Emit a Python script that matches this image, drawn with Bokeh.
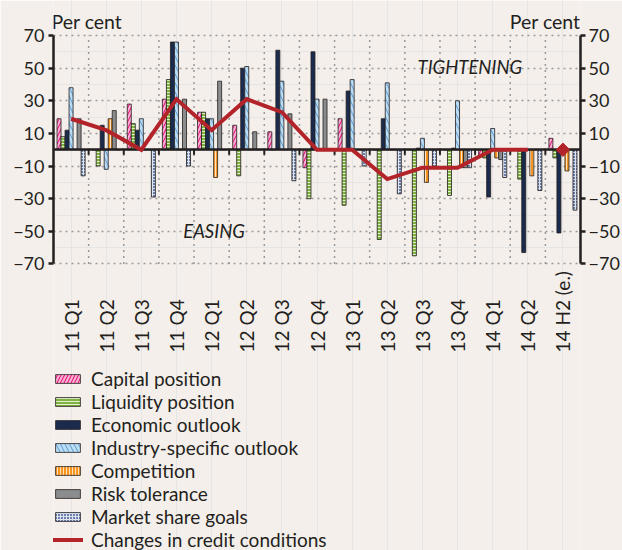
import math
from bokeh.plotting import figure
from bokeh.models import (ColumnDataSource, FactorRange, Range1d, LinearAxis,
                          FixedTicker, Grid, Legend, LegendItem, Label)
from bokeh.transform import dodge
from bokeh.core.properties import value
from bokeh.embed import file_html
from bokeh.resources import INLINE

# ---------------- data ----------------
categories = ["11 Q1", "11 Q2", "11 Q3", "11 Q4", "12 Q1", "12 Q2", "12 Q3", "12 Q4",
              "13 Q1", "13 Q2", "13 Q3", "13 Q4", "14 Q1", "14 Q2", "14 H2 (e.)"]
capital_position = [19, 0, 28, 31, 23, 15, 11, -11, 19, 0, 0, 0, -3, 0, 7]
liquidity_position = [8, -10, 16, 43, 23, -16, 0, -30, -34, -55, -65, -28, -5, -18, -5]
economic_outlook = [12, 15, 12, 66, 19, 50, 61, 60, 36, 19, 1, 1, -29, -63, -51]
industry_outlook = [38, -12, 19, 66, 19, 51, 42, 31, 43, 41, 7, 30, 13, 0, 0]
competition = [0, 19, 0, 0, -17, 0, 0, 0, 0, 0, -20, -11, -5, -16, -13]
risk_tolerance = [19, 24, 0, 31, 42, 11, 22, 31, 0, 0, 0, -11, -6, 0, 0]
market_share_goals = [-16, 0, -29, -10, 0, 0, -19, 0, -10, -27, -10, -11, -17, -25, -37]
credit_conditions = [19, 12, 0, 31, 12, 31, 23, 0, 0, -18, -11, -11, 0, 0]
credit_estimate = 0
y_ticks = [-70, -50, -30, -10, 10, 30, 50, 70]

series_names = ["Capital position", "Liquidity position", "Economic outlook",
                "Industry-specific outlook", "Competition", "Risk tolerance",
                "Market share goals"]
line_name = "Changes in credit conditions"

# ---------------- styles ----------------
BG = "#f5efeb"
DARK = "#231f20"
RED = "#b3242a"
GRID = "#9a9a9a"
styles = [
    dict(fill_color="#f7b3cd", hatch_pattern="/", hatch_color="#e4007c", hatch_scale=7, hatch_weight=1),
    dict(fill_color="#7fb143", hatch_pattern="-", hatch_color="#e3f0cc", hatch_scale=3, hatch_weight=1),
    dict(fill_color="#1b2b4e"),
    dict(fill_color="#bcdcf3", hatch_pattern="\\", hatch_color="#5b9bd2", hatch_scale=9, hatch_weight=1),
    dict(fill_color="#f7941d", hatch_pattern="|", hatch_color="#fde2c2", hatch_scale=3, hatch_weight=1),
    dict(fill_color="#8b8c8e"),
    dict(fill_color="#6a7fab", hatch_pattern="+", hatch_color="#dde4f0", hatch_scale=3, hatch_weight=1),
]

p = figure(width=622, height=550,
           x_range=FactorRange(factors=categories, range_padding=0),
           y_range=Range1d(-245.56, 91.45),
           output_backend="svg", toolbar_location=None,
           x_axis_location=None, y_axis_location=None, title=None,
           min_border_left=53, min_border_right=41, min_border_top=0, min_border_bottom=0,
           background_fill_color=BG, border_fill_color=BG, outline_line_color=None)

ticker = FixedTicker(ticks=y_ticks)
overrides = {t: (f"\u2212{abs(t)}" if t < 0 else str(t)) for t in y_ticks}
for side, standoff in (("left", 4), ("right", 3)):
    ax = LinearAxis(ticker=ticker, bounds=(-70, 70), major_label_overrides=overrides,
                    axis_line_color=DARK, axis_line_width=2.5,
                    major_tick_line_color=DARK, major_tick_line_width=2.5,
                    major_tick_out=5, major_tick_in=0, minor_tick_line_color=None,
                    major_label_text_font="Lato", major_label_text_font_size="18px",
                    major_label_text_color=DARK, major_label_standoff=standoff)
    p.add_layout(ax, side)

p.add_layout(Grid(dimension=1, ticker=ticker, grid_line_color=GRID,
                  grid_line_dash="2 4", grid_line_width=1.5))

src = ColumnDataSource(dict(cat=categories, s0=capital_position, s1=liquidity_position,
                            s2=economic_outlook, s3=industry_outlook, s4=competition,
                            s5=risk_tolerance, s6=market_share_goals))
bsrc = ColumnDataSource(dict(cat=categories[1:]))

# vertical dotted grid at category boundaries
p.segment(x0=dodge("cat", -0.5, range=p.x_range), y0=-70,
          x1=dodge("cat", -0.5, range=p.x_range), y1=70, source=bsrc,
          line_color=GRID, line_dash="2 4", line_width=1.5)

n = len(series_names)
bw = 0.8 / n
renderers = []
for i in range(n):
    off = -0.4 + bw * (i + 0.5)
    r = p.vbar(x=dodge("cat", off, range=p.x_range), top=f"s{i}", bottom=0, width=bw,
               source=src, line_color=DARK, line_width=0.8, **styles[i])
    renderers.append(r)

# zero line and boundary ticks
p.hspan(y=[0], line_color=DARK, line_width=2.5)
p.segment(x0=dodge("cat", -0.5, range=p.x_range), y0=0,
          x1=dodge("cat", -0.5, range=p.x_range), y1=-3, source=bsrc,
          line_color=DARK, line_width=2)

lsrc = ColumnDataSource(dict(cat=categories[:len(credit_conditions)], v=credit_conditions))
rline = p.line("cat", "v", source=lsrc, line_color=RED, line_width=4, line_join="miter")
p.scatter(x=[categories[-1]], y=[credit_estimate], marker="square", angle=math.pi / 4,
          size=9.5, fill_color=RED, line_color=RED)

# category labels
p.text(x="cat", y=-124.2, text="cat", source=src, angle=math.pi / 2,
       text_align="left", text_baseline="middle", text_font=value("Lato"),
       text_font_size="19px", text_color=DARK)

for x, align, txt, y, style, size in ((0, "left", "Per cent", 78.6, "normal", "19.5px"),
                                      (15, "right", "Per cent", 78.6, "normal", "19.5px"),
                                      (4.57, "center", "EASING", -49.5, "italic", "18.5px"),
                                      (11.85, "center", "TIGHTENING", 51, "italic", "18.5px")):
    p.add_layout(Label(x=x, y=y, text=txt, text_align=align, text_baseline="middle",
                       text_font="Lato", text_font_size=size, text_font_style=style,
                       text_color=DARK, x_offset=(-2 if align == "left" else 0)))

items = [LegendItem(label=nm, renderers=[r]) for nm, r in zip(series_names, renderers)]
items.append(LegendItem(label=line_name, renderers=[rline]))
legend = Legend(items=items, location=(-1, -1), glyph_width=31, glyph_height=11,
                label_standoff=8, spacing=0, padding=0, margin=0,
                label_text_font="Lato", label_text_font_size="19px",
                label_text_color=DARK, border_line_color=None, background_fill_alpha=0)
p.add_layout(legend)

open("out.html", "w").write(file_html(p, INLINE))
